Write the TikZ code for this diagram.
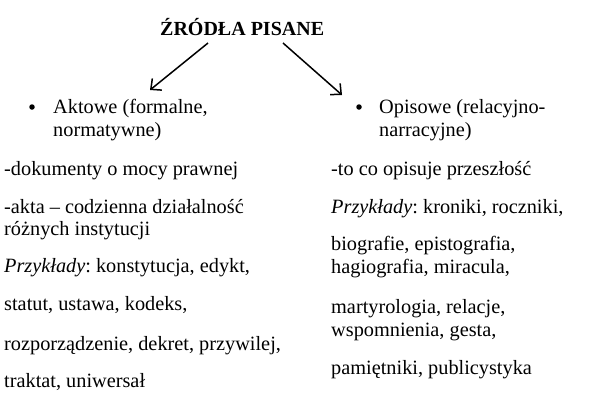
\documentclass[tikz,border=0pt]{standalone}
\usepackage{fontspec}
\setmainfont{Liberation Serif}
\usetikzlibrary{arrows.meta}
\frenchspacing
\tikzset{
  txt/.style={anchor=base west, inner sep=0pt, font=\fontsize{20.3bp}{22bp}\selectfont},
  ttl/.style={anchor=base west, inner sep=0pt, font=\fontsize{20bp}{22bp}\selectfont\bfseries},
  bul/.style={circle, fill=black, inner sep=0pt, minimum size=5.5bp},
  arr/.style={line width=1.5bp, -{Straight Barb[length=8bp,width=15bp,line width=1.5bp]}}
}
\begin{document}
\begin{tikzpicture}[x=1bp,y=-1bp]
\useasboundingbox (0,0) rectangle (589,412);
\node[ttl] (title) at (160,35) {ŹRÓDŁA PISANE};
\coordinate (aLs) at (208,43);
\coordinate (aLe) at (150,90);
\coordinate (aRs) at (283,43);
\coordinate (aRe) at (342,95);
\draw[arr] (aLs) -- (aLe);
\draw[arr] (aRs) -- (aRe);
% left column
\node[bul] (bL) at (32,107) {};
\node[txt] (l1) at (53,113) {Aktowe (formalne,};
\node[txt] (l2) at (53,136) {normatywne)};
\node[txt] (l3) at (4,175) {-dokumenty o mocy prawnej};
\node[txt] (l4) at (4,213) {-akta – codzienna działalność};
\node[txt] (l5) at (4,235) {różnych instytucji};
\node[txt] (l6) at (4,272) {\textit{Przykłady}: konstytucja, edykt,};
\node[txt] (l7) at (4,310) {statut, ustawa, kodeks,};
\node[txt] (l8) at (4,350) {rozporządzenie, dekret, przywilej,};
\node[txt] (l9) at (4,387) {traktat, uniwersał};
% right column
\node[bul] (bR) at (359,107) {};
\node[txt] (r1) at (379,113) {Opisowe (relacyjno-};
\node[txt] (r2) at (379,136) {narracyjne)};
\node[txt] (r3) at (331,175) {-to co opisuje przeszłość};
\node[txt] (r4) at (331,213) {\textit{Przykłady}: kroniki, roczniki,};
\node[txt] (r5) at (331,250) {biografie, epistografia,};
\node[txt] (r6) at (331,273) {hagiografia, miracula,};
\node[txt] (r7) at (331,313) {martyrologia, relacje,};
\node[txt] (r8) at (331,336) {wspomnienia, gesta,};
\node[txt] (r9) at (331,374) {pamiętniki, publicystyka};
\end{tikzpicture}
\end{document}
